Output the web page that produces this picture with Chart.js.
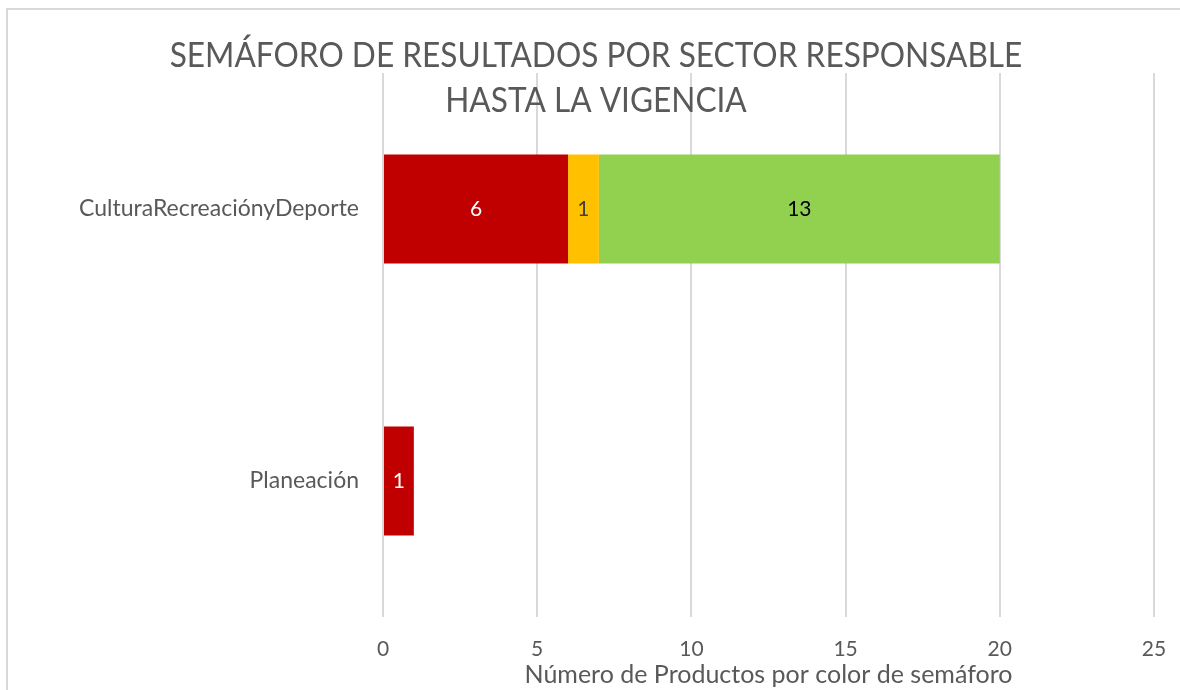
<!DOCTYPE html>
<html>
<head>
<meta charset="utf-8">
<script src="https://cdn.jsdelivr.net/npm/chart.js@4"></script>
<style>
  html, body { margin: 0; padding: 0; background: #fff; }
  #wrap { position: relative; width: 1180px; height: 690px; overflow: hidden; }
  #frame { position: absolute; left: 6px; top: 8px; width: 1200px; height: 720px;
           border-left: 2px solid #d9d9d9; border-top: 2px solid #d9d9d9; }
  canvas { position: absolute; left: 0; top: 0; }
</style>
</head>
<body>
<div id="wrap">
  <div id="frame"></div>
  <canvas id="chart" width="1180" height="690"></canvas>
</div>
<script>
// Sectores y conteos por color de semáforo
const sectores = ['CulturaRecreaciónyDeporte', 'Planeación'];
const rojo = [6, 1];
const amarillo = [1, null];
const verde = [13, null];
const xTicks = [0, 5, 10, 15, 20, 25];
const titulo = ['SEMÁFORO DE RESULTADOS POR SECTOR RESPONSABLE', 'HASTA LA VIGENCIA'];
const ejeX = 'Número de Productos por color de semáforo';

const gray = '#595959';
const baseFont = 'Lato, "Open Sans", sans-serif';

// title drawn over the plot like the Excel overlay (slightly condensed)
const overlayTitle = {
  id: 'overlayTitle',
  afterDraw(chart) {
    const ctx = chart.ctx;
    const sx = 0.93;
    ctx.save();
    ctx.fillStyle = gray;
    ctx.textAlign = 'center';
    ctx.textBaseline = 'middle';
    ctx.font = '34px ' + baseFont;
    ctx.scale(sx, 1);
    ctx.fillText(titulo[0], 596 / sx, 56);
    ctx.fillText(titulo[1], 596 / sx, 101);
    ctx.restore();
  }
};

// value labels centered on each segment
const barLabels = {
  id: 'barLabels',
  afterDatasetsDraw(chart) {
    const ctx = chart.ctx;
    ctx.save();
    ctx.font = '21px ' + baseFont;
    ctx.textAlign = 'center';
    ctx.textBaseline = 'middle';
    chart.data.datasets.forEach((ds, i) => {
      chart.getDatasetMeta(i).data.forEach((bar, j) => {
        const v = ds.data[j];
        if (v == null) return;
        ctx.fillStyle = ds.labelColor;
        ctx.fillText(String(v), (bar.x + bar.base) / 2, bar.y);
      });
    });
    ctx.restore();
  }
};

new Chart(document.getElementById('chart').getContext('2d'), {
  type: 'bar',
  data: {
    labels: sectores,
    datasets: [
      { label: 'Rojo', data: rojo, backgroundColor: '#C00000', labelColor: '#ffffff' },
      { label: 'Amarillo', data: amarillo, backgroundColor: '#FFC000', labelColor: '#404040' },
      { label: 'Verde', data: verde, backgroundColor: '#92D050', labelColor: '#000000' }
    ]
  },
  options: {
    indexAxis: 'y',
    responsive: false,
    animation: false,
    layout: { padding: { top: 73, right: 26, bottom: 0, left: 10 } },
    datasets: { bar: { categoryPercentage: 1, barPercentage: 0.4 } },
    plugins: {
      legend: { display: false },
      title: { display: false },
      tooltip: { enabled: false }
    },
    scales: {
      x: {
        stacked: true,
        min: 0,
        max: 25,
        afterBuildTicks: s => { s.ticks = xTicks.map(v => ({ value: v })); },
        grid: { color: '#d9d9d9', lineWidth: 2, drawTicks: true, tickLength: 20, tickColor: 'rgba(0,0,0,0)' },
        border: { display: false },
        ticks: { color: gray, font: { size: 21, family: baseFont }, padding: 0 },
        title: { display: true, text: ejeX, color: gray, font: { size: 25, family: baseFont }, padding: { top: 0, bottom: 0 } },
        afterFit: s => { s.height = 690 - 617; }
      },
      y: {
        stacked: true,
        grid: { display: false },
        border: { display: false },
        ticks: { color: gray, font: { size: 23, family: baseFont }, padding: 16 },
        afterFit: s => { s.width = 383 - 10; }
      }
    }
  },
  plugins: [overlayTitle, barLabels]
});
</script>
</body>
</html>
